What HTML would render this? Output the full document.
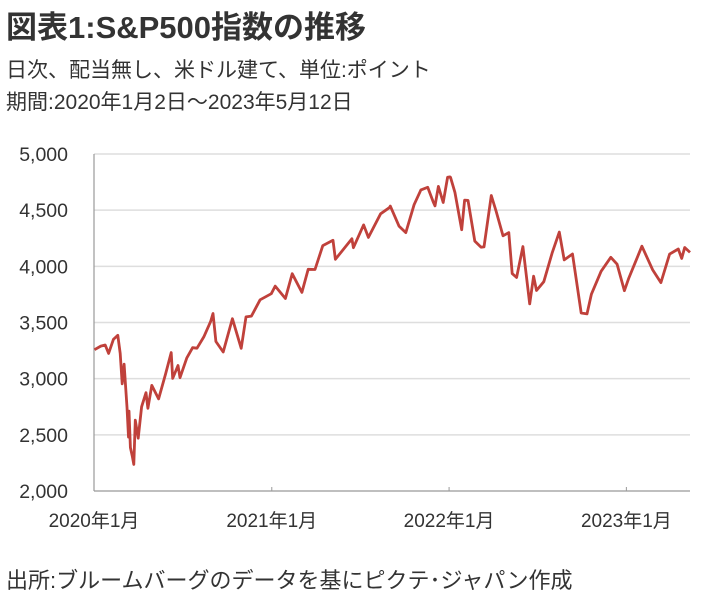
<!DOCTYPE html>
<html><head><meta charset="utf-8"><style>
body{margin:0;background:#fff;width:711px;height:604px;overflow:hidden;font-family:"Liberation Sans","Noto Sans CJK JP",sans-serif;color:#222}
.t{position:absolute;left:6px;white-space:nowrap}
</style></head><body>
<div class="t" style="top:2px;font-size:31px;font-weight:bold;color:#333">図表1:S&amp;P500指数の推移</div>
<div class="t" style="top:54px;font-size:21px;color:#333">日次、配当無し、米ドル建て、単位:ポイント</div>
<div class="t" style="top:86px;font-size:21px;color:#333">期間:2020年1月2日～2023年5月12日</div>
<div class="t" style="top:563px;font-size:22px;color:#333">出所:ブルームバーグのデータを基にピクテ･ジャパン作成</div>
<svg id="c" width="711" height="604" style="position:absolute;left:0;top:0"></svg>
<script>
const dates=["2020-01-02","2020-01-15","2020-01-24","2020-01-31","2020-02-10","2020-02-19","2020-02-24","2020-02-28","2020-03-03","2020-03-09","2020-03-12","2020-03-13","2020-03-16","2020-03-20","2020-03-23","2020-03-26","2020-04-01","2020-04-08","2020-04-17","2020-04-21","2020-04-29","2020-05-13","2020-05-27","2020-06-08","2020-06-11","2020-06-22","2020-06-26","2020-07-10","2020-07-22","2020-07-31","2020-08-14","2020-08-28","2020-09-02","2020-09-08","2020-09-23","2020-10-12","2020-10-30","2020-11-09","2020-11-20","2020-12-08","2020-12-31",
"2021-01-08","2021-01-29","2021-02-12","2021-03-04","2021-03-17","2021-03-31","2021-04-16","2021-05-07","2021-05-12","2021-06-15","2021-06-18","2021-07-09","2021-07-19","2021-08-13","2021-08-31","2021-09-02","2021-09-20","2021-10-04","2021-10-21","2021-11-04","2021-11-18","2021-11-30","2021-12-03","2021-12-10","2021-12-20","2021-12-29",
"2022-01-03","2022-01-04","2022-01-13","2022-01-27","2022-02-02","2022-02-09","2022-02-23","2022-03-08","2022-03-14","2022-03-29","2022-04-08","2022-04-22","2022-05-04","2022-05-11","2022-05-20","2022-06-02","2022-06-16","2022-06-24","2022-06-30","2022-07-15","2022-08-01","2022-08-16","2022-08-26","2022-09-12","2022-09-30","2022-10-12","2022-10-21","2022-11-10","2022-11-30","2022-12-13","2022-12-28",
"2023-01-06","2023-02-02","2023-02-24","2023-03-13","2023-03-31","2023-04-18","2023-04-25","2023-05-01","2023-05-12"];
const values=[3258,3290,3300,3225,3350,3386,3225,2954,3130,2746,2480,2711,2386,2305,2237,2630,2470,2750,2875,2736,2940,2820,3036,3232,3002,3117,3009,3185,3276,3271,3372,3508,3580,3331,3237,3534,3270,3550,3557,3702,3756,
3824,3714,3934,3768,3974,3972,4185,4232,4063,4246,4166,4369,4258,4468,4522,4536,4358,4300,4549,4680,4704,4567,4538,4712,4568,4793,
4796,4793,4659,4326,4589,4587,4225,4170,4173,4631,4488,4272,4300,3935,3901,4176,3666,3912,3785,3863,4118,4305,4057,4110,3585,3577,3752,3956,4080,4019,3783,
3895,4179,3970,3855,4109,4154,4071,4168,4124];
const yTicks=[2000,2500,3000,3500,4000,4500,5000];
const xTickLabels=["2020年1月","2021年1月","2022年1月","2023年1月"];
const xTickDates=["2020-01-01","2021-01-01","2022-01-01","2023-01-01"];

const L=94,R=690,T=154,B=491;
const t0=Date.parse("2020-01-01"),t1=Date.parse("2023-05-12");
const x=d=>L+(Date.parse(d)-t0)/(t1-t0)*(R-L);
const y=v=>B-(v-2000)/3000*(B-T);
const svg=document.getElementById('c');const NS="http://www.w3.org/2000/svg";
function mk(tag,a){const e=document.createElementNS(NS,tag);for(const k in a)e.setAttribute(k,a[k]);svg.appendChild(e);return e;}
yTicks.forEach(v=>{
 if(v>2000){const g=mk('line',{x1:L,x2:R,y1:y(v),y2:y(v),stroke:'#dedede','stroke-width':1.5});
 
 }
 const t=mk('text',{x:68,y:y(v)+7,'text-anchor':'end','font-size':19.5,fill:'#333','font-family':'Liberation Sans, sans-serif'});
 t.textContent=v.toLocaleString('en-US');
 
 
});
const ya=mk('line',{x1:L,x2:L,y1:T,y2:B,stroke:'#999','stroke-width':1.2});


const xa=mk('line',{x1:L,x2:R,y1:B,y2:B,stroke:'#999','stroke-width':1.2});


xTickDates.forEach((d,i)=>{
 const tk=mk('line',{x1:x(d),x2:x(d),y1:B-4,y2:B,stroke:'#999'});
 
 
 const t=mk('text',{x:x(d),y:B+36,'text-anchor':'middle','font-size':19,fill:'#333','font-family':'Liberation Sans, Noto Sans CJK JP, sans-serif'});
 t.textContent=xTickLabels[i];
 
 
});
const p=mk('polyline',{points:dates.map((d,i)=>x(d).toFixed(1)+','+y(values[i]).toFixed(1)).join(' '),fill:'none',stroke:'#c0413b','stroke-width':2.8,'stroke-linejoin':'round'});


</script>
</body></html>
